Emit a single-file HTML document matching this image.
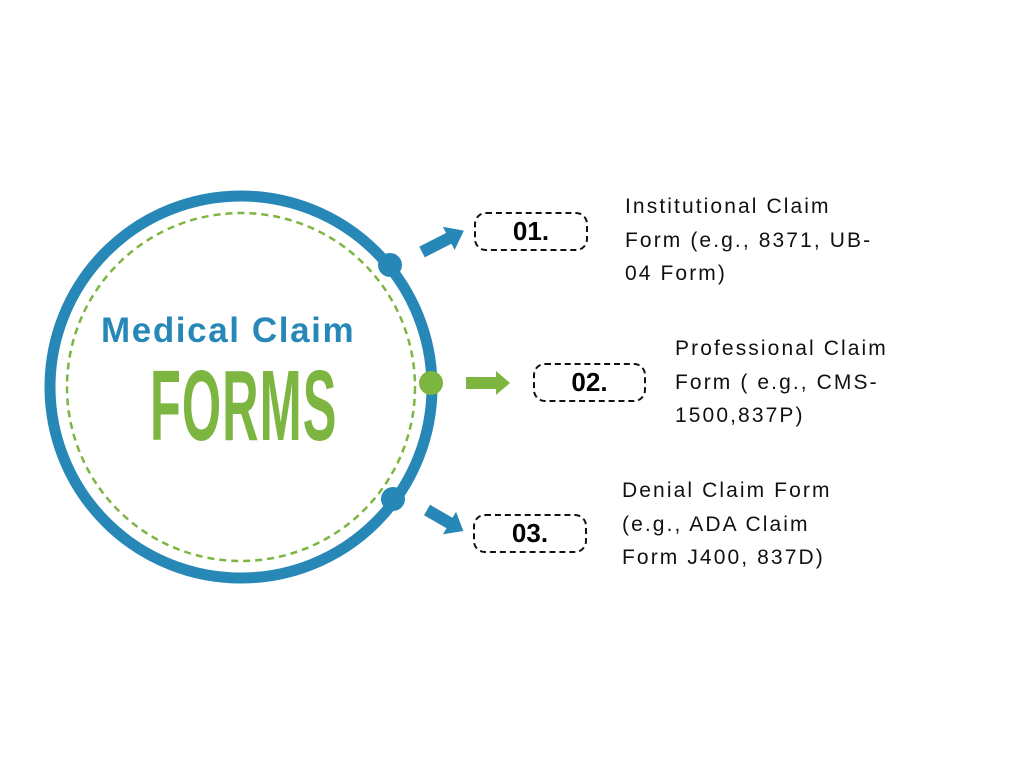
<!DOCTYPE html>
<html><head><style>
body{margin:0;width:1024px;height:768px;background:#fff;position:relative;overflow:hidden;font-family:"Liberation Sans",sans-serif}
.t{position:absolute;font-size:21px;line-height:33.5px;color:#111;letter-spacing:2.1px}
.b{position:absolute;border:2px dashed #111;border-radius:12px;box-sizing:border-box;font-weight:bold;font-size:26px;text-align:center;color:#000}
</style></head><body>
<svg width="1024" height="768" style="position:absolute;left:0;top:0">
<circle cx="241" cy="387" r="191" fill="none" stroke="#2788b8" stroke-width="11"/>
<circle cx="241" cy="387" r="174" fill="none" stroke="#7db541" stroke-width="2.5" stroke-dasharray="7 5"/>
<circle cx="390" cy="265" r="12" fill="#2788b8"/>
<circle cx="431" cy="383" r="12" fill="#7db541"/>
<circle cx="393" cy="499" r="12" fill="#2788b8"/>
<g transform="translate(422,252) rotate(-27)">
<polygon points="0,-6 30,-6 30,-13 47,0 30,13 30,6 0,6" fill="#2788b8"/></g>
<polygon points="466,377 496,377 496,371 510,383 496,395 496,389 466,389" fill="#7db541"/>
<g transform="translate(427,510) rotate(30)">
<polygon points="0,-6 26,-6 26,-13 42,0 26,13 26,6 0,6" fill="#2788b8"/></g>
</svg>
<div style="position:absolute;left:101px;top:311px;font-size:35px;letter-spacing:1.6px;font-weight:bold;color:#2788b8;white-space:nowrap">Medical Claim</div>
<div style="position:absolute;left:150px;top:356px;width:400px;font-size:100px;line-height:100px;font-weight:bold;color:#7db541;transform:scaleX(0.505);transform-origin:0 0;letter-spacing:2px;white-space:nowrap">FORMS</div>
<div class="b" style="left:474px;top:212px;width:114px;height:39px;line-height:35px">01.</div>
<div class="b" style="left:533px;top:363px;width:113px;height:39px;line-height:35px">02.</div>
<div class="b" style="left:473px;top:514px;width:114px;height:39px;line-height:35px">03.</div>
<div class="t" style="left:625px;top:190px">Institutional Claim<br>Form (e.g., 8371, UB-<br>04 Form)</div>
<div class="t" style="left:675px;top:332px">Professional Claim<br>Form ( e.g., CMS-<br>1500,837P)</div>
<div class="t" style="left:622px;top:474px">Denial Claim Form<br>(e.g., ADA Claim<br>Form J400, 837D)</div>
</body></html>
